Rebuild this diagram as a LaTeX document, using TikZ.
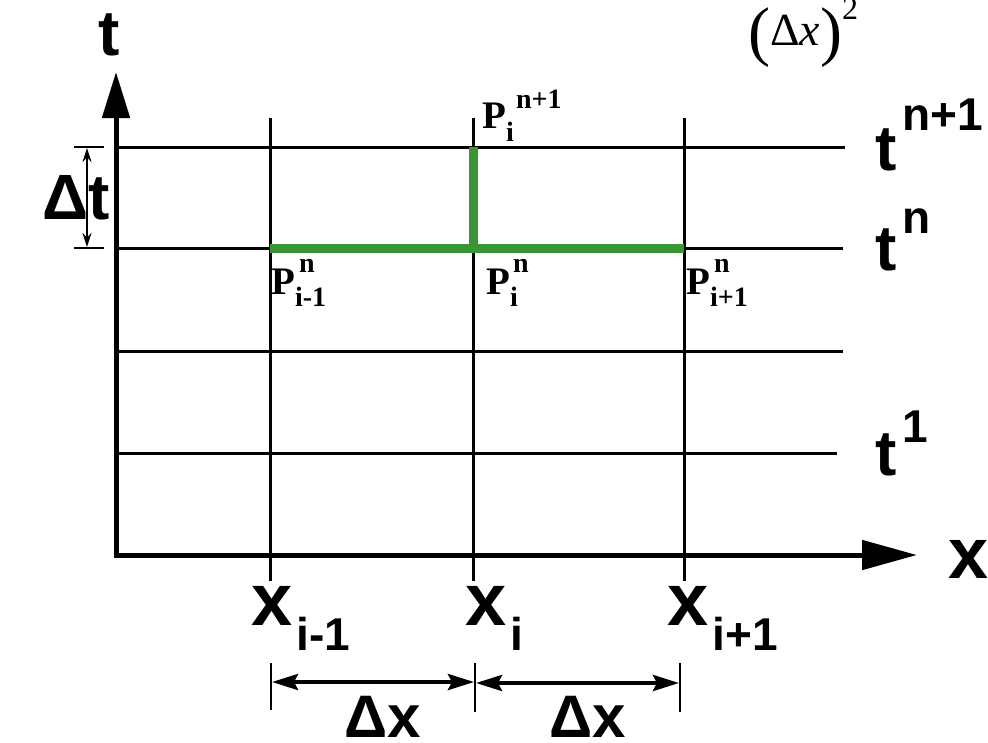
\documentclass[tikz,border=0pt]{standalone}
\usepackage{fontspec}
\usepackage{graphicx}
\usetikzlibrary{arrows.meta}
\setmainfont{Liberation Serif}
\newfontfamily\lsans{Liberation Sans}
\newfontfamily\lserif{Liberation Serif}
\definecolor{pgreen}{RGB}{58,150,52}
\newcommand\fs[1]{\fontsize{#1}{#1}\selectfont}
\begin{document}
\begin{tikzpicture}[x=1pt,y=-1pt,
  lab/.style={inner sep=0pt,anchor=base west},
  bigsans/.style={lab,font=\lsans\bfseries\fs{64}},
  pser/.style={lab,font=\lserif\bfseries\fs{39}},
  grid/.style={line width=3pt},
  axis/.style={line width=5pt},
  dim/.style={line width=1.4pt},
  greenl/.style={line width=9pt,pgreen}]
\useasboundingbox (0,0) rectangle (988,742);

% coordinates
\coordinate (O) at (116,555);
\coordinate (Ttip) at (116,72);
\coordinate (Xtip) at (917,555);
% horizontal grid lines
\coordinate (h1a) at (116,147); \coordinate (h1b) at (845,147);
\coordinate (h2a) at (116,248); \coordinate (h2b) at (843,248);
\coordinate (h3a) at (116,351); \coordinate (h3b) at (843,351);
\coordinate (h4a) at (116,453); \coordinate (h4b) at (837,453);
% vertical grid lines
\coordinate (v1a) at (270,118); \coordinate (v1b) at (270,581);
\coordinate (v2a) at (473,118); \coordinate (v2b) at (473,581);
\coordinate (v3a) at (684,118); \coordinate (v3b) at (684,581);

\draw[grid] (h1a) -- (h1b);
\draw[grid] (h2a) -- (h2b);
\draw[grid] (h3a) -- (h3b);
\draw[grid] (h4a) -- (h4b);
\draw[grid] (v1a) -- (v1b);
\draw[grid] (v2a) -- (v2b);
\draw[grid] (v3a) -- (v3b);

% axes
\draw[axis,-{Triangle[length=46pt,width=27pt]}] (116,557.5) -- (Ttip);
\draw[axis,-{Triangle[length=55pt,width=29pt]}] (113.5,555) -- (Xtip);

% green stencil
\coordinate (Pim) at (270,248);
\coordinate (Pi) at (473,248);
\coordinate (Pip) at (684,248);
\coordinate (Pin) at (473,147);
\draw[greenl] (Pim) -- (Pip);
\draw[greenl] (Pi) -- (Pin);

% delta t dimension
\coordinate (dt1a) at (74,147); \coordinate (dt1b) at (104,147);
\coordinate (dt2a) at (74,248); \coordinate (dt2b) at (104,248);
\coordinate (dtu) at (87,148); \coordinate (dtd) at (87,247);
\draw[dim] (dt1a) -- (dt1b);
\draw[dim] (dt2a) -- (dt2b);
\draw[dim,{Stealth[length=14pt,width=9pt]}-{Stealth[length=14pt,width=9pt]}] (dtu) -- (dtd);

% delta x dimension
\coordinate (dx1a) at (271,663); \coordinate (dx1b) at (271,710);
\coordinate (dx2a) at (475,663); \coordinate (dx2b) at (475,712);
\coordinate (dx3a) at (680,663); \coordinate (dx3b) at (680,712);
\draw[dim] (dx1a) -- (dx1b);
\draw[dim] (dx2a) -- (dx2b);
\draw[dim] (dx3a) -- (dx3b);
\coordinate (dxl) at (272,682); \coordinate (dxm) at (474,682);
\coordinate (dxm2) at (476,683); \coordinate (dxr) at (679,683);
\draw[line width=4pt,{Stealth[length=26pt,width=16pt,inset=4pt]}-{Stealth[length=26pt,width=16pt,inset=4pt]}] (dxl) -- (dxm);
\draw[line width=4pt,{Stealth[length=26pt,width=16pt,inset=4pt]}-{Stealth[length=26pt,width=16pt,inset=4pt]}] (dxm2) -- (dxr);

% axis labels
\node[bigsans] (tlab) at (98,55) {t};
\node[bigsans,font=\lsans\bfseries\fs{72}] (xlab) at (948,578) {x};
\node[bigsans] (dtlab) at (42,219) {Δt};
\node[bigsans,font=\lsans\bfseries\fs{60}] (dxlab1) at (344,737) {Δx};
\node[bigsans,font=\lsans\bfseries\fs{60}] (dxlab2) at (549,737) {Δx};

% time level labels
\node[bigsans] (tn1) at (875,170) {t\hspace{6pt}\raisebox{40pt}{\fs{46}n+1}};
\node[bigsans] (tn) at (875,270) {t\hspace{6pt}\raisebox{37pt}{\fs{46}n}};
\node[bigsans] (t1) at (875,475) {t\hspace{6pt}\raisebox{33pt}{\fs{46}1}};

% x labels
\node[bigsans,font=\lsans\bfseries\fs{74}] (xim) at (251,625) {x\hspace{4pt}\raisebox{-25pt}{\fs{46}i-1}};
\node[bigsans,font=\lsans\bfseries\fs{74}] (xi) at (465,625) {x\hspace{4pt}\raisebox{-25pt}{\fs{46}i}};
\node[bigsans,font=\lsans\bfseries\fs{74}] (xip) at (667,625) {x\hspace{4pt}\raisebox{-25pt}{\fs{46}i+1}};

% P labels
\node[pser] (Plm) at (271,294) {P\rlap{\raisebox{-12pt}{\fs{28}i-1}}\hspace{4pt}\raisebox{22pt}{\fs{28}n}};
\node[pser] (Pl) at (486,294) {P\rlap{\raisebox{-12pt}{\fs{28}i}}\hspace{3pt}\raisebox{22pt}{\fs{28}n}};
\node[pser] (Plp) at (686,294) {P\rlap{\raisebox{-12pt}{\fs{28}i+1}}\hspace{4pt}\raisebox{22pt}{\fs{28}n}};
\node[pser] (Pln) at (482,128) {P\rlap{\raisebox{-13pt}{\fs{28}i}}\hspace{10pt}\raisebox{20pt}{\fs{28}n+1}};

% top formula fragment
\node[lab,font=\lserif\fs{46}] (frag) at (748,45) {\raisebox{-8pt}{\fs{66}(}Δ\textit{x}\raisebox{-8pt}{\fs{66})}\raisebox{26pt}{\fs{32}2}};
\end{tikzpicture}
\end{document}
